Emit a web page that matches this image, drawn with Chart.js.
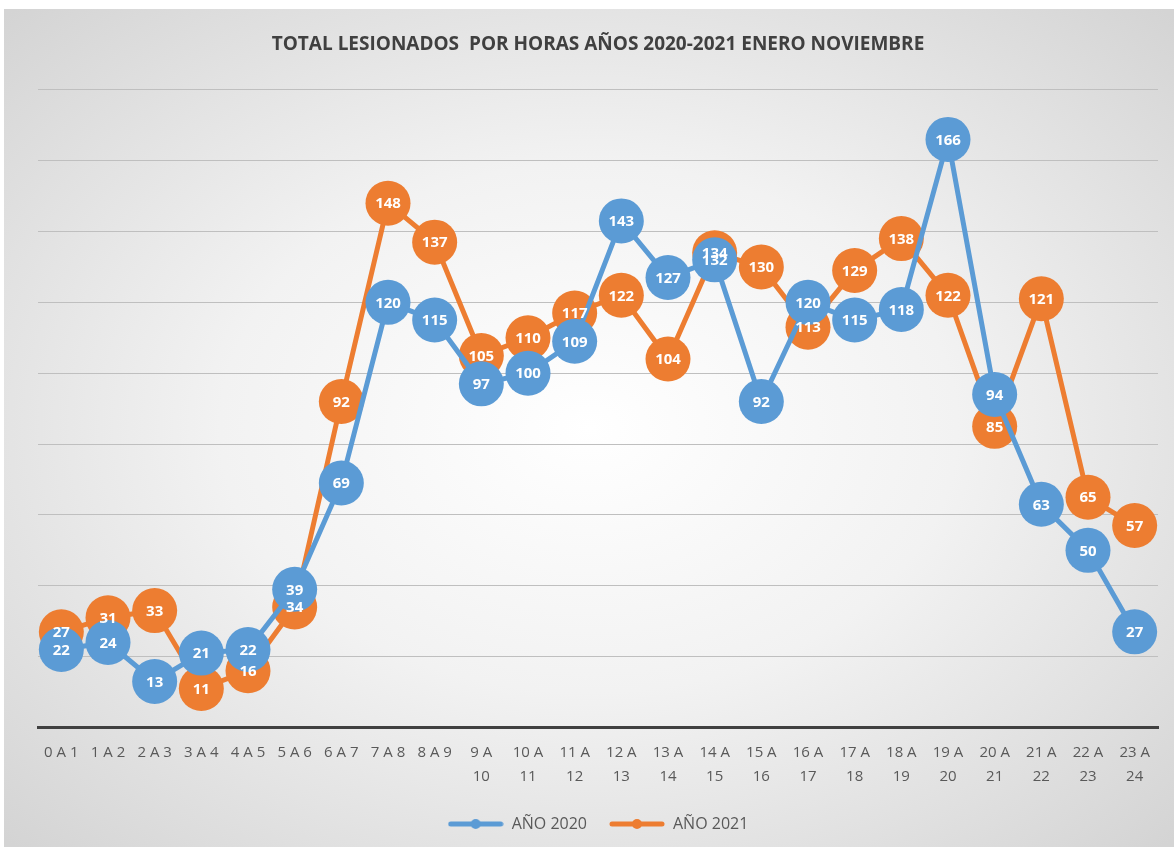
<!DOCTYPE html>
<html>
<head>
<meta charset="utf-8">
<script src="https://cdn.jsdelivr.net/npm/chart.js@4.4.1/dist/chart.umd.min.js"></script>
<style>
  html, body { margin: 0; padding: 0; background: #fff; }
  #box {
    position: absolute; left: 4px; top: 9px; width: 1170px; height: 838px;
    background: radial-gradient(ellipse 70% 70% at 50% 50%, #ffffff 0%, #f2f2f2 45%, #d4d4d4 100%);
  }
  canvas { display: block; }
</style>
</head>
<body>
<div id="box"><canvas id="chart" width="1170" height="838"></canvas></div>
<script>
/* DATA */
const HOURS = [
  '0 A 1', '1 A 2', '2 A 3', '3 A 4', '4 A 5', '5 A 6', '6 A 7', '7 A 8', '8 A 9',
  ['9 A', '10'], ['10 A', '11'], ['11 A', '12'], ['12 A', '13'], ['13 A', '14'], ['14 A', '15'],
  ['15 A', '16'], ['16 A', '17'], ['17 A', '18'], ['18 A', '19'], ['19 A', '20'], ['20 A', '21'],
  ['21 A', '22'], ['22 A', '23'], ['23 A', '24']
];
const Y2020 = [22, 24, 13, 21, 22, 39, 69, 120, 115, 97, 100, 109, 143, 127, 132, 92, 120, 115, 118, 166, 94, 63, 50, 27];
const Y2021 = [27, 31, 33, 11, 16, 34, 92, 148, 137, 105, 110, 117, 122, 104, 134, 130, 113, 129, 138, 122, 85, 121, 65, 57];
const SERIES_NAMES = ['AÑO 2020', 'AÑO 2021'];
const COLORS = ['#5b9bd5', '#ed7d31'];

/* legend swatch: line with dot */
function swatch(color) {
  const c = document.createElement('canvas');
  c.width = 56; c.height = 10;
  const g = c.getContext('2d');
  g.strokeStyle = color; g.lineWidth = 5; g.lineCap = 'round';
  g.beginPath(); g.moveTo(3, 5); g.lineTo(53, 5); g.stroke();
  g.fillStyle = color;
  g.beginPath(); g.arc(28, 5, 5, 0, Math.PI * 2); g.fill();
  return c;
}

/* value labels drawn after all series */
const valueLabels = {
  id: 'valueLabels',
  afterDatasetsDraw(chart) {
    const ctx = chart.ctx;
    ctx.save();
    ctx.fillStyle = '#ffffff';
    ctx.font = 'bold 15px "Open Sans", sans-serif';
    ctx.textAlign = 'center';
    ctx.textBaseline = 'middle';
    chart.data.datasets.forEach((ds, i) => {
      chart.getDatasetMeta(i).data.forEach((pt, j) => {
        ctx.fillText(ds.data[j], pt.x, pt.y + 1);
      });
    });
    ctx.restore();
  }
};

new Chart(document.getElementById('chart'), {
  type: 'line',
  data: {
    labels: HOURS,
    datasets: [
      { label: SERIES_NAMES[0], data: Y2020, borderColor: COLORS[0], backgroundColor: COLORS[0],
        borderWidth: 5, pointRadius: 22.5, pointBorderWidth: 0, pointBackgroundColor: COLORS[0], tension: 0, clip: false },
      { label: SERIES_NAMES[1], data: Y2021, borderColor: COLORS[1], backgroundColor: COLORS[1],
        borderWidth: 5, pointRadius: 22.5, pointBorderWidth: 0, pointBackgroundColor: COLORS[1], tension: 0, clip: false }
    ]
  },
  options: {
    responsive: false, animation: false,
    layout: { autoPadding: false, padding: { left: 34, right: 16, top: 0, bottom: 5 } },
    plugins: {
      title: { display: true, text: 'TOTAL LESIONADOS  POR HORAS AÑOS 2020-2021 ENERO NOVIEMBRE',
        color: '#404040', font: { family: '"Open Sans", sans-serif', size: 19, weight: 'bold' },
        padding: { top: 24, bottom: 34 } },
      legend: {
        position: 'bottom',
        labels: {
          color: '#595959', font: { family: '"Open Sans", sans-serif', size: 16 },
          usePointStyle: true, pointStyleWidth: 56, padding: 22,
          generateLabels: chart => chart.data.datasets.map((ds, i) => ({
            text: ds.label, pointStyle: swatch(COLORS[i]), fillStyle: COLORS[i],
            strokeStyle: COLORS[i], lineWidth: 0, datasetIndex: i, hidden: false, fontColor: '#595959'
          }))
        }
      },
      tooltip: { enabled: false }
    },
    scales: {
      x: {
        offset: true,
        grid: { display: false },
        border: { display: true, color: '#404040', width: 3 },
        ticks: { color: '#595959', font: { family: '"Open Sans", sans-serif', size: 15, lineHeight: 1.55 },
          maxRotation: 0, autoSkip: false, padding: 6 }
      },
      y: {
        min: 0, max: 180,
        ticks: { display: false, stepSize: 20 },
        grid: { color: '#bfbfbf', lineWidth: 1, drawTicks: false },
        border: { display: false }
      }
    }
  },
  plugins: [valueLabels]
});
</script>
</body>
</html>
